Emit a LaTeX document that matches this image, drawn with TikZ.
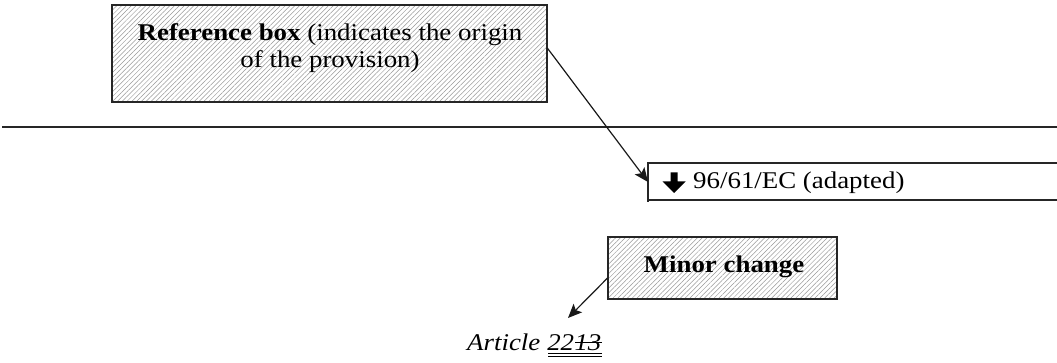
\documentclass[tikz,border=0pt]{standalone}
\usepackage{fontspec}
\setmainfont[FakeStretch=1.12]{Liberation Serif}
\usetikzlibrary{patterns.meta,arrows.meta,calc}
\tikzset{
  hatchbox/.style={draw=black!85, line width=1.1pt,
    preaction={fill=white},
    pattern={Lines[angle=45,distance=3.4pt,line width=0.5pt]},
    pattern color=black!40, inner sep=0pt},
  txt/.style={font=\fontsize{24}{27}\selectfont, inner sep=0pt},
  rule/.style={draw=black!85, line width=1.1pt},
  ptr/.style={draw=black!90, line width=1.2pt, -{Stealth[length=14pt,width=12pt,inset=3pt]}},
}
\begin{document}
\begin{tikzpicture}[x=1pt,y=-1pt]
\useasboundingbox (0,0) rectangle (1057,363);
% reference box
\node[hatchbox, minimum width=435pt, minimum height=97pt] (refbox) at (329.5,53.5) {};
\node[txt, align=center] (reftext) at (330,48) {\textbf{Reference box} (indicates the origin\\of the provision)};
% horizontal rule
\coordinate (hlA) at (2,127);
\coordinate (hlB) at (1057,127);
\draw[rule] (hlA) -- (hlB);
% 96/61/EC box (open to the right)
\coordinate (ecTR) at (1057,163);
\coordinate (ecTL) at (648,163);
\coordinate (ecBL) at (648,202);
\coordinate (ecBl) at (648,200);
\coordinate (ecBR) at (1057,200);
\draw[rule] (ecTR) -- (ecTL) -- (ecBL);
\draw[rule] (ecBl) -- (ecBR);
\coordinate (ecIn) at (648,182);
% thick down arrow symbol
\fill[black] (670.5,172.5) -- (677.5,172.5) -- (677.5,181.5) -- (685.5,181.5) -- (674,193) -- (662.5,181.5) -- (670.5,181.5) -- cycle;
\node[txt, anchor=base west] (ectext) at (693,189) {96/61/EC (adapted)};
% arrow from reference box
\coordinate (refOut) at ($(refbox.north east)!0.443!(refbox.south east)$);
\draw[ptr] (refOut) -- (ecIn);
% minor change box
\node[hatchbox, minimum width=229pt, minimum height=62pt] (minor) at (722.5,268) {};
\node[txt, font=\fontsize{24}{27}\selectfont\bfseries, anchor=base] (minortext) at (724,272.5) {Minor change};
\coordinate (minorOut) at ($(minor.north west)!0.66!(minor.south west)$);
\coordinate (artIn) at (568,318);
\draw[ptr] (minorOut) -- (artIn);
% Article 22 13
\node[txt, font=\fontsize{24}{27}\selectfont\itshape, anchor=base west] (art1) at (467,350) {Article};
\node[txt, font=\fontsize{24}{27}\selectfont\itshape, anchor=base west] (art2) at ($(art1.base east)+(6.5,0)$) {22};
\node[txt, font=\fontsize{24}{27}\selectfont\itshape, anchor=base west] (art3) at (art2.base east) {13};
\draw[black, line width=0.9pt] ($(art2.base west)+(1,3)$) -- ($(art3.base east)+(0,3)$);
\draw[black, line width=0.9pt] ($(art2.base west)+(1,6.5)$) -- ($(art3.base east)+(0,6.5)$);
\draw[black, line width=1pt] ($(art3.base west)+(1,-8)$) -- ($(art3.base east)+(0,-8)$);
\end{tikzpicture}
\end{document}
